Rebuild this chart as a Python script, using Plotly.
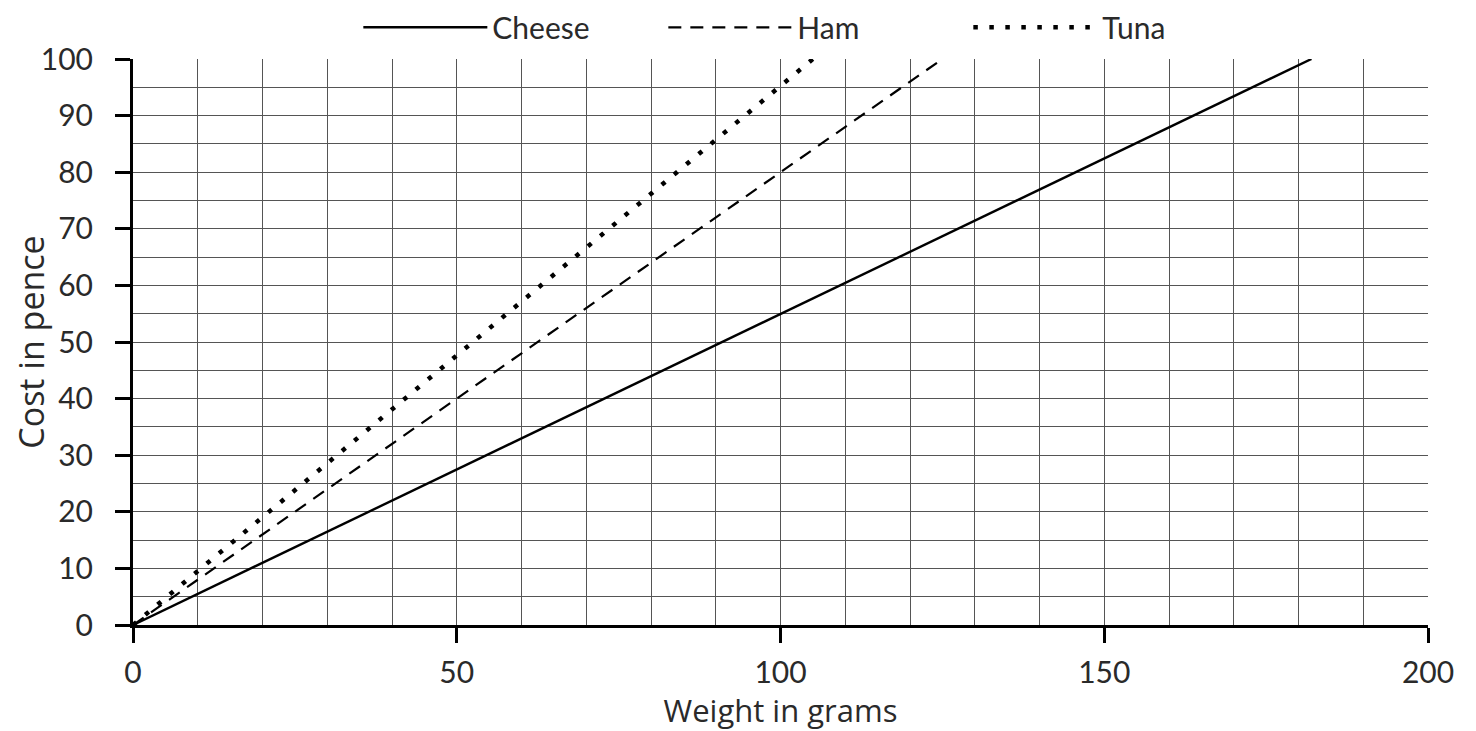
import plotly.graph_objects as go

# Data
cheese_weight = [0, 182]
cheese_cost = [0, 100]
ham_weight = [0, 125]
ham_cost = [0, 100]
tuna_weight = [0, 105]
tuna_cost = [0, 100]

x_ticks = [0, 50, 100, 150, 200]
y_ticks = [0, 10, 20, 30, 40, 50, 60, 70, 80, 90, 100]

FONT = "Lato"
TITLE_FONT = "Open Sans"
GRID = "#555555"
TXT = "#2a2a2a"

fig = go.Figure()
fig.add_trace(go.Scatter(x=cheese_weight, y=cheese_cost, mode="lines", name="Cheese",
                         line=dict(color="black", width=2.4, dash="solid")))
fig.add_trace(go.Scatter(x=ham_weight, y=ham_cost, mode="lines", name="Ham",
                         line=dict(color="black", width=2.2, dash="13px,9px")))
fig.add_trace(go.Scatter(x=tuna_weight, y=tuna_cost, mode="lines", name="Tuna",
                         line=dict(color="black", width=4.5, dash="4.5px,11.5px")))

fig.update_layout(
    width=1476, height=731,
    margin=dict(l=125, r=56, t=51, b=114, autoexpand=False),
    paper_bgcolor="white", plot_bgcolor="white",
    font=dict(family=FONT, size=30, color=TXT),
    showlegend=True,
    legend=dict(orientation="h", x=0.174, xanchor="left", y=1.056, yanchor="middle",
                font=dict(family=FONT, size=30, color=TXT),
                itemwidth=124, entrywidth=166, bgcolor="rgba(0,0,0,0)"),
    xaxis=dict(range=[0, 200], tickvals=x_ticks, ticktext=[str(v) for v in x_ticks],
               showgrid=True, gridcolor=GRID, gridwidth=1,
               minor=dict(dtick=10, tick0=0, showgrid=True, gridcolor=GRID, gridwidth=1, ticks=""),
               showline=True, linecolor="black", linewidth=3, mirror=False,
               ticks="outside", ticklen=15, tickwidth=3, tickcolor="black",
               ticklabelstandoff=4,
               zeroline=False,
               title=dict(text="Weight in grams", font=dict(family=TITLE_FONT, size=31, color=TXT), standoff=1),
               tickfont=dict(family=FONT, size=30, color=TXT)),
    yaxis=dict(range=[0, 100], tickvals=y_ticks, ticktext=[str(v) for v in y_ticks],
               showgrid=True, gridcolor=GRID, gridwidth=1,
               minor=dict(dtick=5, tick0=0, showgrid=True, gridcolor=GRID, gridwidth=1, ticks=""),
               showline=True, linecolor="black", linewidth=3,
               ticks="outside", ticklen=15, tickwidth=3, tickcolor="black",
               ticklabelstandoff=16,
               zeroline=False,
               title=dict(text="Cost in pence", font=dict(family=TITLE_FONT, size=34, color=TXT), standoff=3),
               tickfont=dict(family=FONT, size=30, color=TXT)),
)

fig.write_html("out.html")
